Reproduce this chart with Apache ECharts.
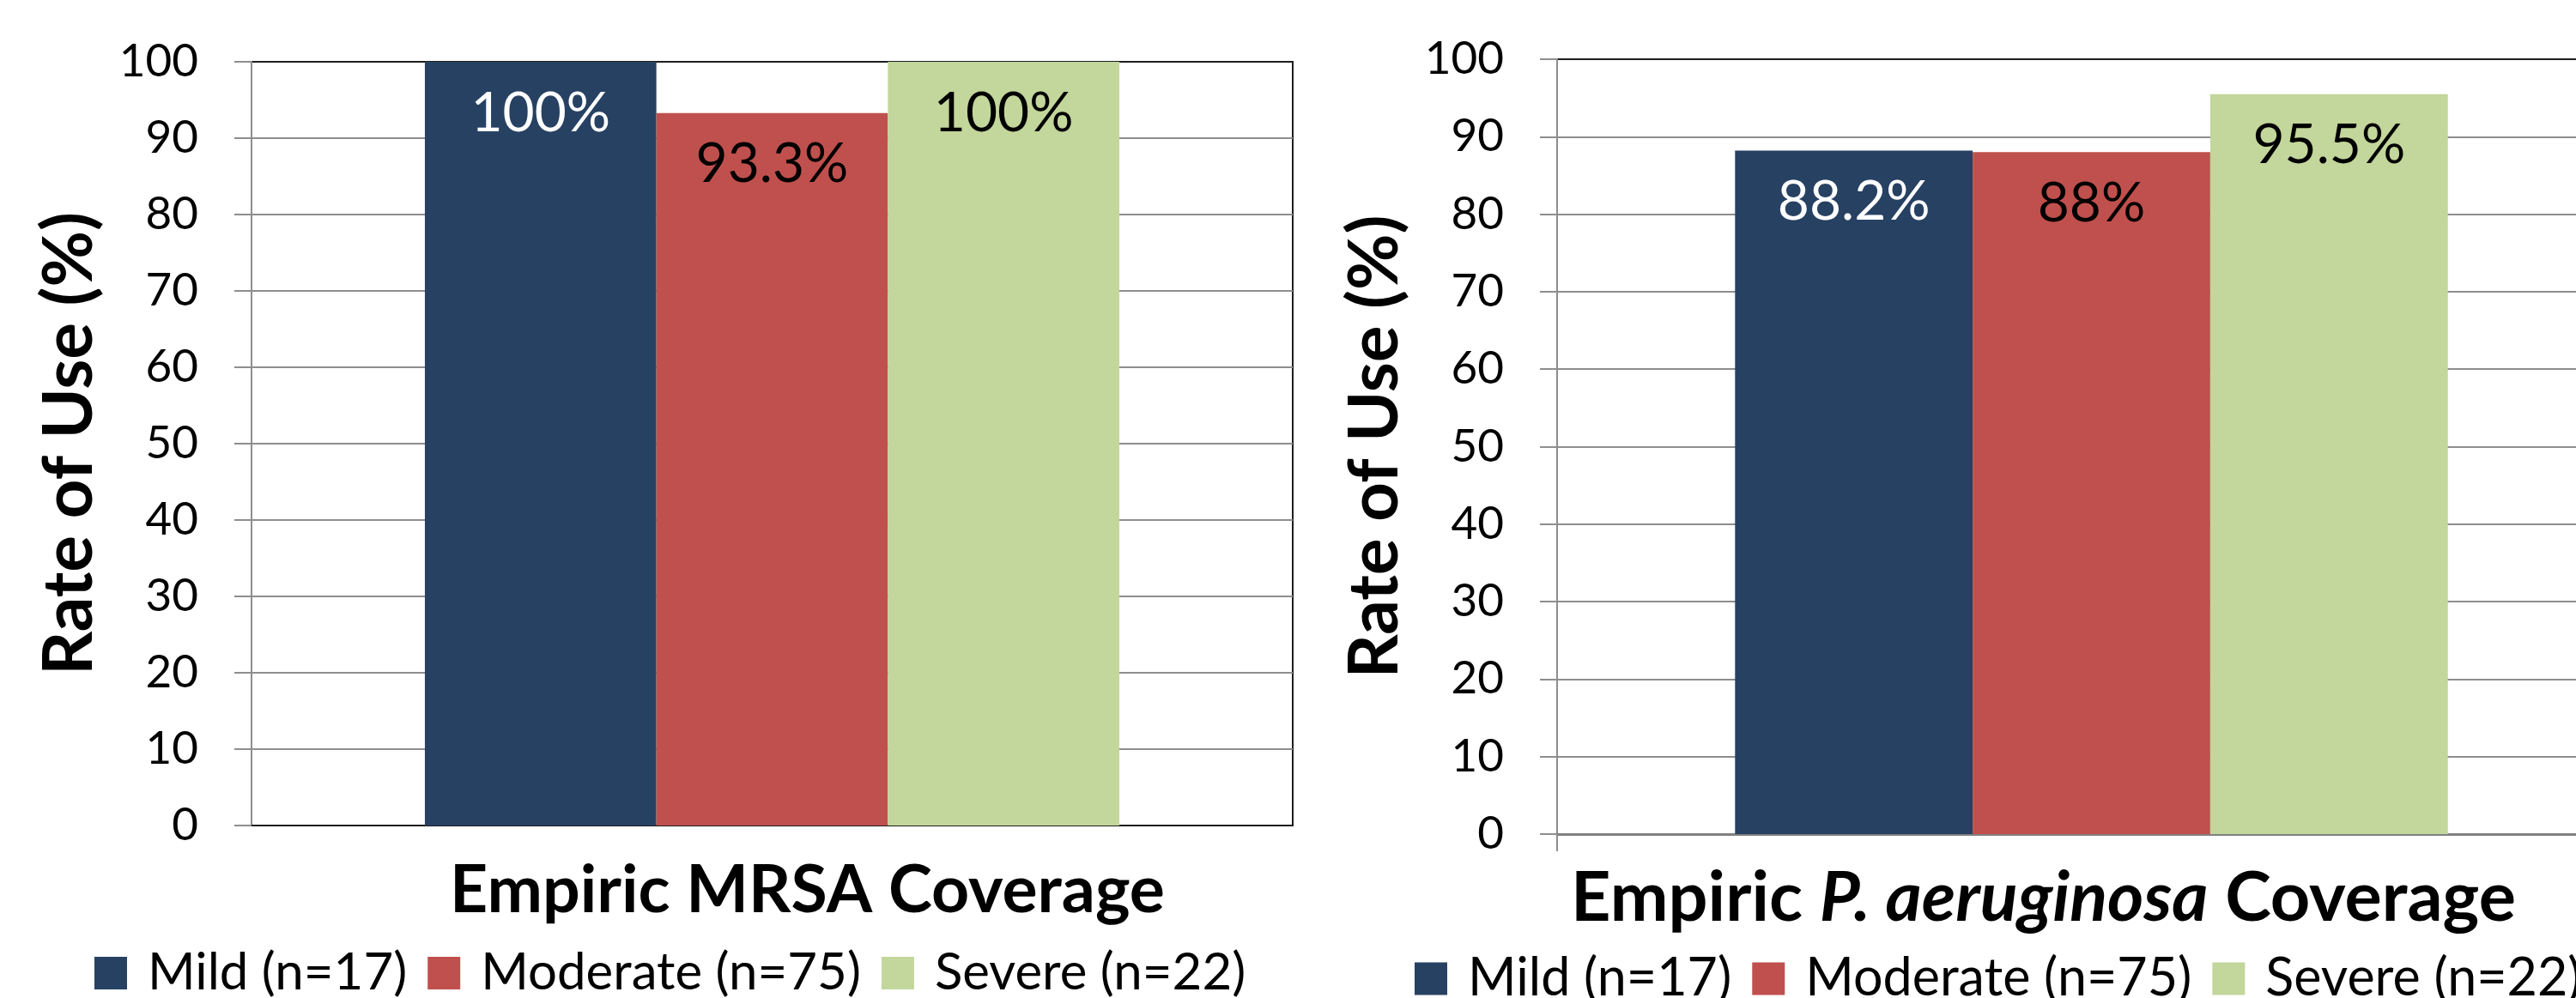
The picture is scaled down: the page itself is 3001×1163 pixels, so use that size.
<!DOCTYPE html>
<html>
<head>
<meta charset="utf-8">
<script src="https://cdn.jsdelivr.net/npm/echarts@6/dist/echarts.min.js"></script>
<style>
html,body{margin:0;padding:0;background:#fff;overflow:hidden;}
#chart{width:3100px;height:1163px;}
</style>
</head>
<body>
<div id="chart"></div>
<script>
// ---- data ----
const seriesNames = ['Mild (n=17)', 'Moderate (n=75)', 'Severe (n=22)'];
const mrsaCategory = ['Empiric MRSA Coverage'];
const paCategory = ['Empiric P. aeruginosa Coverage'];
const mrsaValues = [100, 93.3, 100];
const paValues = [88.2, 88, 95.5];
const yAxisTitle = 'Rate of Use (%)';
const yMin = 0, yMax = 100, yStep = 10;

// ---- styles ----
const colors = ['#274163', '#C0504D', '#C3D69B'];
const labelColors = ['#ffffff', '#000000', '#000000'];
const FONT = 'Lato';
const gridColor = '#8e8e8e';

const chart = echarts.init(document.getElementById('chart'), null, {renderer: 'canvas'});

function yAxisCfg(gridIndex) {
  return {
    type: 'value', gridIndex: gridIndex, min: yMin, max: yMax, interval: yStep,
    name: yAxisTitle, nameLocation: 'middle', nameRotate: 90, nameGap: 172,
    nameTextStyle: {fontFamily: FONT, fontWeight: 'bold', fontSize: 80, color: '#000'},
    axisLine: {show: true, lineStyle: {color: gridColor, width: 2}},
    axisTick: {show: true, inside: false, length: 20, lineStyle: {color: gridColor, width: 2}},
    axisLabel: {margin: 62, fontFamily: FONT, fontSize: 53, color: '#000'},
    splitLine: {show: true, showMinLine: false, showMaxLine: false, lineStyle: {color: gridColor, width: 2}}
  };
}

const series = [];
seriesNames.forEach(function (name, i) {
  [[mrsaValues, 0], [paValues, 1]].forEach(function (pair) {
    series.push({
      type: 'bar', name: name, xAxisIndex: pair[1], yAxisIndex: pair[1],
      data: [pair[0][i]],
      barGap: '0%', barCategoryGap: '33.3%',
      itemStyle: {color: colors[i]},
      label: {
        show: true, position: 'insideTop', distance: 28,
        fontFamily: FONT, fontSize: 64, lineHeight: 64, color: labelColors[i],
        formatter: function (p) { return p.value + '%'; }
      }
    });
  });
});

const option = {
  backgroundColor: '#ffffff',
  animation: false,
  grid: [
    {left: 293, top: 72, width: 1213, height: 890, show: true, borderColor: '#1e1e1e', borderWidth: 2, backgroundColor: 'transparent'},
    {left: 1814, top: 69, width: 1245, height: 903, show: true, borderColor: '#1e1e1e', borderWidth: 2, backgroundColor: 'transparent'}
  ],
  xAxis: [
    {
      type: 'category', gridIndex: 0, data: mrsaCategory,
      axisLine: {show: true, lineStyle: {color: '#1e1e1e', width: 2}},
      axisTick: {show: false},
      axisLabel: {
        margin: 38, fontFamily: FONT, fontWeight: 'bold', fontSize: 77, color: '#000',
        padding: [0, 0, 0, 82]
      }
    },
    {
      type: 'category', gridIndex: 1, data: paCategory,
      axisLine: {show: true, lineStyle: {color: '#808080', width: 3}},
      axisTick: {show: true, length: 20, alignWithLabel: false, lineStyle: {color: gridColor, width: 2}},
      axisLabel: {
        margin: 34, color: '#000', padding: [0, 112, 0, 0],
        formatter: function (v) {
          const m = v.match(/^(Empiric )(P\. aeruginosa)( Coverage)$/);
          return m ? '{b|' + m[1] + '}{i|' + m[2] + '}{b|' + m[3] + '}' : '{b|' + v + '}';
        },
        rich: {
          b: {fontFamily: FONT, fontWeight: 'bold', fontSize: 81, color: '#000'},
          i: {fontFamily: FONT, fontWeight: 'bold', fontStyle: 'italic', fontSize: 81, color: '#000'}
        }
      }
    }
  ],
  yAxis: [yAxisCfg(0), yAxisCfg(1)],
  legend: [
    {
      data: seriesNames, left: 110, top: 1104, orient: 'horizontal', padding: 0,
      icon: 'rect', itemWidth: 38, itemHeight: 38, itemGap: 24,
      textStyle: {fontFamily: FONT, fontSize: 60, lineHeight: 60, color: '#000', padding: [0, 0, 0, 19]},
      selectedMode: false
    },
    {
      data: seriesNames, left: 1648, top: 1110, orient: 'horizontal', padding: 0,
      icon: 'rect', itemWidth: 38, itemHeight: 38, itemGap: 24,
      textStyle: {fontFamily: FONT, fontSize: 61, lineHeight: 60, color: '#000', padding: [0, 0, 0, 19]},
      selectedMode: false
    }
  ],
  series: series
};

chart.setOption(option);
</script>
</body>
</html>
